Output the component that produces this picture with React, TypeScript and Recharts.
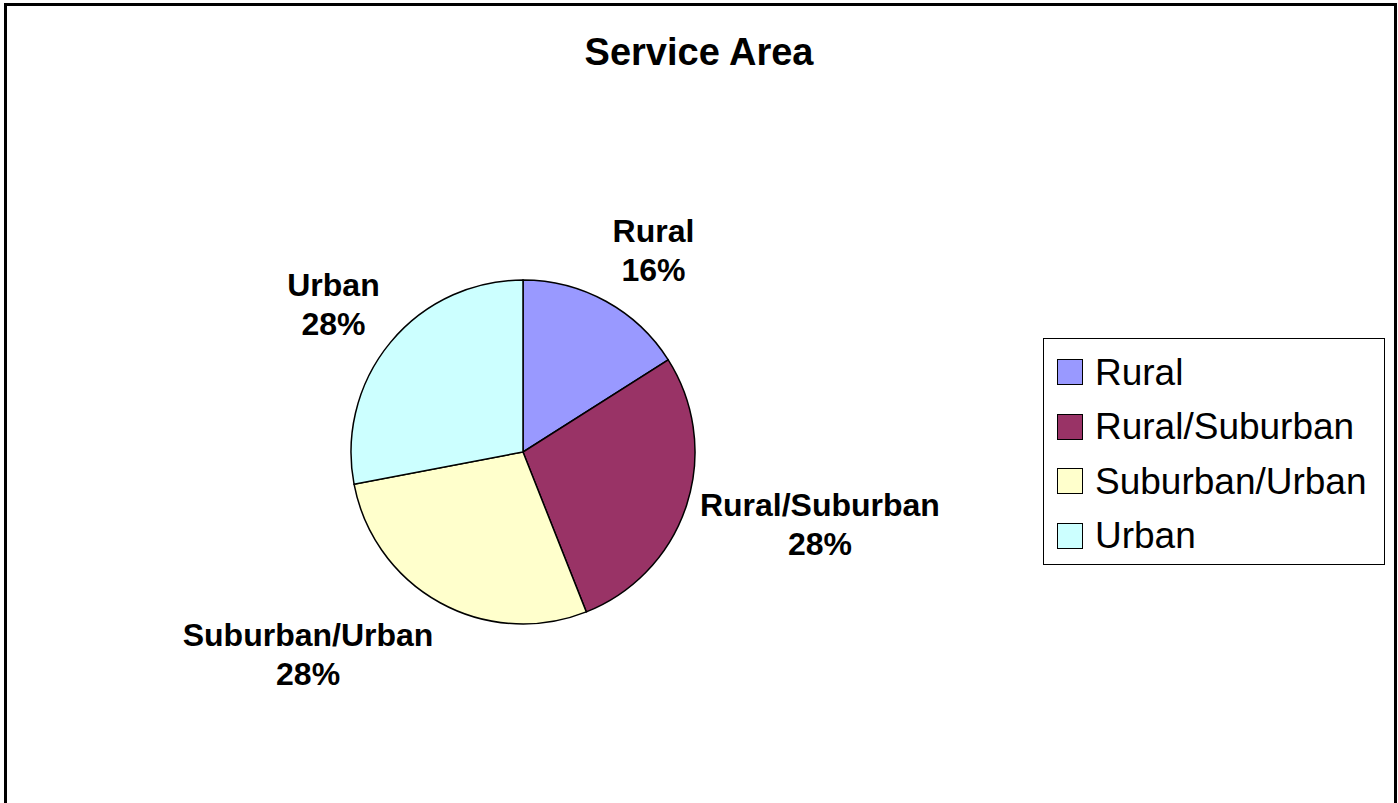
import { PieChart, Pie, Cell, Legend } from 'recharts';

const categories = ['Rural', 'Rural/Suburban', 'Suburban/Urban', 'Urban'];
const counts = [4, 7, 7, 7];
const sliceColors = ['#9999FF', '#993366', '#FFFFCC', '#CCFFFF'];

const data = categories.map((name, i) => ({ name, value: counts[i] }));

const FONT = '"Liberation Sans", Arial, sans-serif';
const LABEL_SIZE = 32;
const LINE_GAP = 39;

let ctx: CanvasRenderingContext2D | null = null;
function textWidth(s: string) {
    if (!ctx) ctx = document.createElement('canvas').getContext('2d');
    if (!ctx) return s.length * LABEL_SIZE * 0.6;
    ctx.font = `bold ${LABEL_SIZE}px ${FONT}`;
    return ctx.measureText(s).width;
}

const clamp = (v: number) => Math.max(-1, Math.min(1, v));

// excel-ish outside labels: push the text block away from the pie edge
function renderLabel(props: any) {
    const { cx, cy, midAngle, outerRadius, name, percent } = props;
    const rad = (midAngle * Math.PI) / 180;
    const c = Math.cos(rad);
    const s = Math.sin(rad);
    const pct = `${Math.round(percent * 100)}%`;
    const halfW = Math.max(textWidth(name), textWidth(pct)) / 2;
    const halfH = 32;
    const x = cx + (outerRadius + 14) * c + halfW * clamp(2.1 * c);
    const y = cy - (outerRadius + 22) * s - halfH * clamp(1.2 * s);
    const base1 = y - LINE_GAP / 2 + LABEL_SIZE * 0.36;
    return (
        <text
            x={x}
            y={base1}
            textAnchor="middle"
            fontFamily={FONT}
            fontWeight="bold"
            fontSize={LABEL_SIZE}
            fill="#000"
        >
            <tspan x={x} y={base1}>{name}</tspan>
            <tspan x={x} y={base1 + LINE_GAP}>{pct}</tspan>
        </text>
    );
}

function LegendBox({ payload }: any) {
    return (
        <div
            style={{
                boxSizing: 'border-box',
                width: 342,
                height: 227,
                border: '1px solid #000',
                background: '#fff',
                padding: '6px 0 0 13px',
                fontFamily: FONT,
                fontSize: 37,
            }}
        >
            {(payload || []).map((p: any) => (
                <div key={p.value} style={{ display: 'flex', alignItems: 'center', height: 54.5 }}>
                    <span
                        style={{
                            display: 'inline-block',
                            boxSizing: 'border-box',
                            width: 26,
                            height: 26,
                            background: p.color,
                            border: '1.5px solid #000',
                            marginRight: 12,
                        }}
                    />
                    <span style={{ lineHeight: 1 }}>{p.value}</span>
                </div>
            ))}
        </div>
    );
}

export default function App() {
    return (
        <div style={{ position: 'absolute', left: 0, top: 0, width: 1398, height: 803, overflow: 'hidden', background: '#fff' }}>
            <div
                style={{
                    position: 'absolute',
                    left: 4,
                    top: 3,
                    width: 1393,
                    height: 840,
                    border: '3px solid #000',
                    boxSizing: 'border-box',
                }}
            />
            <div
                style={{
                    position: 'absolute',
                    left: 0,
                    top: 33,
                    width: 1398,
                    textAlign: 'center',
                    fontFamily: FONT,
                    fontWeight: 'bold',
                    fontSize: 38,
                    lineHeight: '38px',
                }}
            >
                Service Area
            </div>
            <div style={{ position: 'absolute', left: 0, top: 0 }}>
                <PieChart width={1398} height={803} margin={{ top: 0, right: 0, bottom: 0, left: 0 }}>
                    <Pie
                        data={data}
                        dataKey="value"
                        nameKey="name"
                        cx={523}
                        cy={452}
                        outerRadius={172}
                        startAngle={90}
                        endAngle={-270}
                        stroke="#000"
                        strokeWidth={1.5}
                        label={renderLabel}
                        labelLine={false}
                        isAnimationActive={false}
                    >
                        {data.map((d, i) => (
                            <Cell key={d.name} fill={sliceColors[i]} />
                        ))}
                    </Pie>
                    <Legend
                        content={<LegendBox />}
                        wrapperStyle={{ position: 'absolute', left: 1043, top: 338, width: 342, height: 227 }}
                    />
                </PieChart>
            </div>
        </div>
    );
}
